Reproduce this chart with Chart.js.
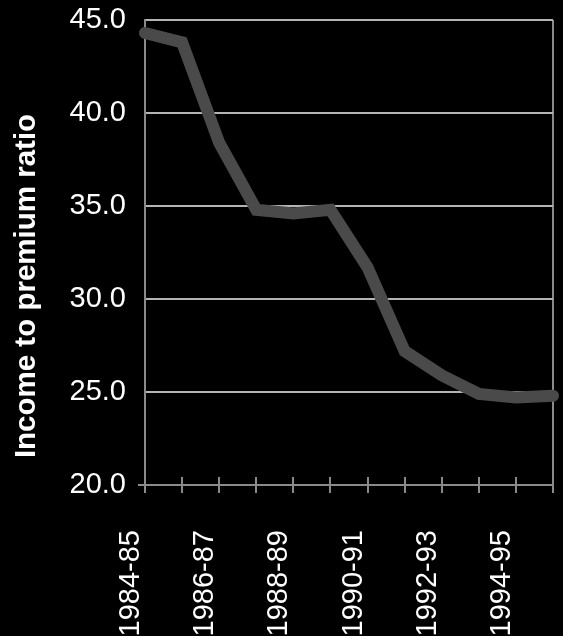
<!DOCTYPE html>
<html>
<head>
<meta charset="utf-8">
<script src="https://cdn.jsdelivr.net/npm/chart.js@4.4.1/dist/chart.umd.min.js"></script>
<style>
  html, body { margin: 0; padding: 0; background: #000; }
  #wrap { width: 563px; height: 636px; position: relative; }
</style>
</head>
<body>
<div id="wrap"><canvas id="c" width="563" height="636"></canvas></div>
<script>
// Financial years on the category axis
const seasons = ['1984-85', '1985-86', '1986-87', '1987-88', '1988-89', '1989-90',
                 '1990-91', '1991-92', '1992-93', '1993-94', '1994-95', '1995-96'];
// Income to premium ratio for each year
const incomeToPremium = [44.3, 43.8, 38.4, 34.8, 34.6, 34.8, 31.7, 27.2, 25.9, 24.9, 24.7, 24.8];
// Value axis range and step
const yMin = 20, yMax = 45, yStep = 5;
const yTitle = 'Income to premium ratio';

const FONT = '"Liberation Sans", Arial, sans-serif';
const AXIS_GREY = '#8a8a8a';
const GRID_GREY = '#b4b4b4';

// Tick marks crossing the category axis, and the rotated axis title
const axisMarks = {
  id: 'axisMarks',
  beforeDatasetsDraw(chart) {
    const { ctx, scales: { x, y } } = chart;
    const yb = Math.round(y.getPixelForValue(yMin));
    ctx.save();
    ctx.strokeStyle = AXIS_GREY;
    ctx.lineWidth = 2;
    x.ticks.forEach((t, i) => {
      const px = Math.round(x.getPixelForTick(i));
      ctx.beginPath();
      ctx.moveTo(px, yb - 8);
      ctx.lineTo(px, yb + 8);
      ctx.stroke();
    });
    ctx.restore();
  },
  afterDraw(chart) {
    const { ctx } = chart;
    ctx.save();
    ctx.fillStyle = '#ffffff';
    ctx.font = 'bold 29.5px ' + FONT;
    ctx.translate(27, 286);
    ctx.rotate(-Math.PI / 2);
    ctx.textAlign = 'center';
    ctx.textBaseline = 'middle';
    ctx.fillText(yTitle, 0, 0);
    ctx.restore();
  }
};

Chart.defaults.font.family = FONT;

new Chart(document.getElementById('c'), {
  type: 'line',
  data: {
    labels: seasons,
    datasets: [{
      data: incomeToPremium,
      borderColor: '#4a4a4a',
      borderWidth: 12,
      borderCapStyle: 'round',
      borderJoinStyle: 'miter',
      pointRadius: 0,
      pointHoverRadius: 0,
      tension: 0,
      fill: false,
      clip: false
    }]
  },
  options: {
    responsive: false,
    animation: false,
    devicePixelRatio: 1,
    layout: { padding: { top: 20, right: 10, left: 0, bottom: 0 } },
    plugins: {
      legend: { display: false },
      tooltip: { enabled: false },
      title: { display: false }
    },
    scales: {
      x: {
        type: 'category',
        offset: false,
        grid: {
          display: true,
          drawTicks: false,
          lineWidth: 2,
          color: (c) => (c.index === seasons.length - 1 ? AXIS_GREY : 'rgba(0,0,0,0)')
        },
        border: { display: true, color: AXIS_GREY, width: 2 },
        ticks: {
          color: '#ffffff',
          font: { size: 29 },
          minRotation: 90,
          maxRotation: 90,
          autoSkip: false,
          padding: 45,
          labelOffset: -14,
          callback: (v, i) => (i % 2 === 0 ? seasons[i] : '')
        },
        afterFit: (s) => { s.height = 151; s.paddingLeft = 0; s.paddingRight = 0; }
      },
      y: {
        min: yMin,
        max: yMax,
        grid: {
          lineWidth: 2,
          drawTicks: true,
          tickLength: 7,
          color: (c) => (c.index === 0 ? 'rgba(0,0,0,0)' : GRID_GREY),
          tickColor: (c) => (c.index === 0 ? AXIS_GREY : 'rgba(0,0,0,0)')
        },
        border: { display: true, color: AXIS_GREY, width: 2 },
        ticks: {
          stepSize: yStep,
          color: '#ffffff',
          font: { size: 29 },
          padding: 12,
          callback: (v) => Number(v).toFixed(1)
        },
        afterFit: (s) => { s.width = 145; s.paddingTop = 0; s.paddingBottom = 0; }
      }
    }
  },
  plugins: [axisMarks]
});
</script>
</body>
</html>
